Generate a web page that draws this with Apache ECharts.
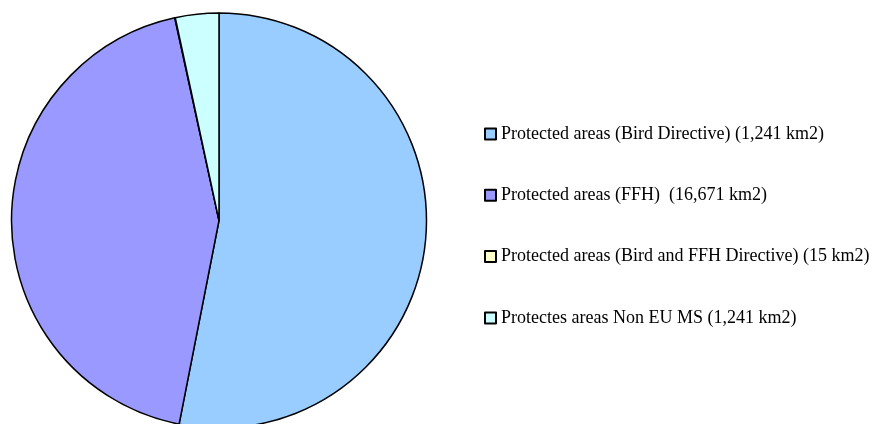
<!DOCTYPE html>
<html>
<head>
<meta charset="utf-8">
<script src="https://cdn.jsdelivr.net/npm/echarts@6/dist/echarts.min.js"></script>
<style>html,body{margin:0;padding:0;background:#fff;}#c{width:875px;height:424px;}</style>
</head>
<body>
<div id="c"></div>
<script>
const categories = [
  'Protected areas (Bird Directive) (1,241 km2)',
  'Protected areas (FFH)  (16,671 km2)',
  'Protected areas (Bird and FFH Directive) (15 km2)',
  'Protectes areas Non EU MS (1,241 km2)'
];
// slice shares (%)
const shares = [53.08, 43.5, 0.04, 3.38];
const colors = ['#99CCFF', '#9999FF', '#FFFFCC', '#CCFFFF'];

const chart = echarts.init(document.getElementById('c'), null, {renderer: 'canvas'});
chart.setOption({
  animation: false,
  backgroundColor: '#ffffff',
  legend: {
    orient: 'vertical',
    left: 479,
    top: 120,
    itemWidth: 11,
    itemHeight: 11,
    itemGap: 43.3,
    icon: 'rect',
    selectedMode: false,
    textStyle: {fontFamily: 'Liberation Serif', fontSize: 18, color: '#000', lineHeight: 18},
    data: categories
  },
  series: [{
    type: 'pie',
    center: [219, 220.5],
    radius: [0, 207.5],
    startAngle: 90,
    clockwise: true,
    label: {show: false},
    labelLine: {show: false},
    emphasis: {disabled: true},
    itemStyle: {borderColor: '#000', borderWidth: 1.5},
    data: categories.map((n, i) => ({name: n, value: shares[i], itemStyle: {color: colors[i]}}))
  }]
});
</script>
</body>
</html>
